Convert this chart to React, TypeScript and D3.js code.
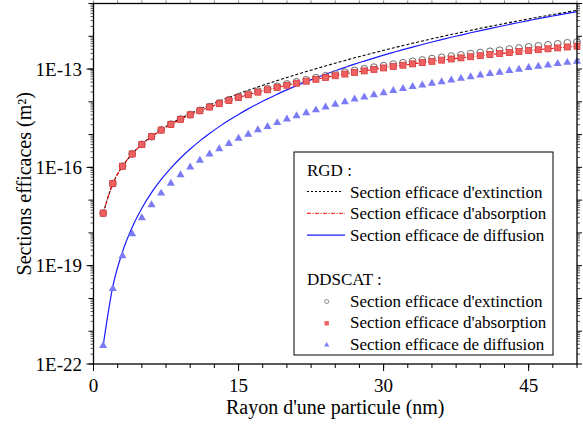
import React from "react";
import * as d3 from "d3";

const radius = [1,2,3,4,5,6,7,8,9,10,11,12,13,14,15,16,17,18,19,20,21,22,23,24,25,26,27,28,29,30,31,32,33,34,35,36,37,38,39,40,41,42,43,44,45,46,47,48,49,50];

// RGD theory
const rgdExtinction = [4.0e-18,3.20e-17,1.083e-16,2.575e-16,5.06e-16,8.81e-16,1.41e-15,2.15e-15,3.11e-15,4.36e-15,5.96e-15,7.99e-15,1.054e-14,1.37e-14,1.76e-14,2.25e-14,2.85e-14,3.56e-14,4.45e-14,5.52e-14,6.81e-14,8.38e-14,1.024e-13,1.247e-13,1.511e-13,1.82e-13,2.20e-13,2.63e-13,3.14e-13,3.73e-13,4.41e-13,5.21e-13,6.13e-13,7.18e-13,8.39e-13,9.77e-13,1.134e-12,1.31e-12,1.52e-12,1.75e-12,2.00e-12,2.29e-12,2.61e-12,2.97e-12,3.38e-12,3.83e-12,4.33e-12,4.88e-12,5.49e-12,6.17e-12];
const rgdAbsorption = [4.0e-18,3.2e-17,1.08e-16,2.56e-16,5.0e-16,8.64e-16,1.37e-15,2.05e-15,2.92e-15,4.0e-15,5.32e-15,6.91e-15,8.79e-15,1.10e-14,1.35e-14,1.64e-14,1.97e-14,2.33e-14,2.74e-14,3.2e-14,3.70e-14,4.26e-14,4.87e-14,5.53e-14,6.25e-14,7.03e-14,7.87e-14,8.78e-14,9.76e-14,1.08e-13,1.19e-13,1.31e-13,1.44e-13,1.57e-13,1.72e-13,1.87e-13,2.03e-13,2.19e-13,2.37e-13,2.56e-13,2.76e-13,2.96e-13,3.18e-13,3.41e-13,3.65e-13,3.89e-13,4.15e-13,4.42e-13,4.71e-13,5.0e-13];
const rgdScattering = [3.63e-22,2.32e-20,2.65e-19,1.49e-18,5.67e-18,1.69e-17,4.27e-17,9.52e-17,1.93e-16,3.63e-16,6.43e-16,1.08e-15,1.75e-15,2.73e-15,4.13e-15,6.09e-15,8.76e-15,1.23e-14,1.71e-14,2.32e-14,3.11e-14,4.12e-14,5.37e-14,6.94e-14,8.86e-14,1.12e-13,1.41e-13,1.75e-13,2.16e-13,2.65e-13,3.22e-13,3.90e-13,4.69e-13,5.61e-13,6.67e-13,7.90e-13,9.31e-13,1.09e-12,1.28e-12,1.49e-12,1.72e-12,1.99e-12,2.29e-12,2.63e-12,3.01e-12,3.44e-12,3.91e-12,4.44e-12,5.02e-12,5.67e-12];

// DDSCAT simulation
const ddExtinction = [4.0e-18,3.2e-17,1.082e-16,2.57e-16,5.03e-16,8.71e-16,1.39e-15,2.08e-15,2.98e-15,4.10e-15,5.48e-15,7.16e-15,9.15e-15,1.15e-14,1.43e-14,1.74e-14,2.11e-14,2.50e-14,2.97e-14,3.50e-14,4.07e-14,4.72e-14,5.43e-14,6.22e-14,7.08e-14,8.03e-14,9.07e-14,1.02e-13,1.14e-13,1.27e-13,1.41e-13,1.56e-13,1.73e-13,1.89e-13,2.08e-13,2.28e-13,2.49e-13,2.70e-13,2.95e-13,3.21e-13,3.48e-13,3.75e-13,4.07e-13,4.39e-13,4.75e-13,5.09e-13,5.47e-13,5.87e-13,6.29e-13,6.70e-13];
const ddAbsorption = [4.0e-18,3.2e-17,1.08e-16,2.56e-16,5.0e-16,8.64e-16,1.37e-15,2.05e-15,2.92e-15,4.0e-15,5.32e-15,6.91e-15,8.79e-15,1.10e-14,1.35e-14,1.64e-14,1.97e-14,2.33e-14,2.74e-14,3.2e-14,3.70e-14,4.26e-14,4.87e-14,5.53e-14,6.25e-14,7.03e-14,7.87e-14,8.78e-14,9.76e-14,1.08e-13,1.19e-13,1.31e-13,1.44e-13,1.57e-13,1.72e-13,1.87e-13,2.03e-13,2.19e-13,2.37e-13,2.56e-13,2.76e-13,2.96e-13,3.18e-13,3.41e-13,3.65e-13,3.89e-13,4.15e-13,4.42e-13,4.71e-13,5.0e-13];
const ddScattering = [3.63e-22,2.0e-20,2.0e-19,9.3e-19,2.88e-18,7.1e-18,1.62e-17,3.24e-17,5.9e-17,1.02e-16,1.62e-16,2.51e-16,3.63e-16,5.25e-16,7.6e-16,1.02e-15,1.38e-15,1.74e-15,2.29e-15,2.95e-15,3.72e-15,4.57e-15,5.62e-15,6.92e-15,8.32e-15,1.0e-14,1.20e-14,1.38e-14,1.62e-14,1.86e-14,2.19e-14,2.51e-14,2.88e-14,3.24e-14,3.63e-14,4.07e-14,4.57e-14,5.13e-14,5.75e-14,6.46e-14,7.24e-14,7.94e-14,8.91e-14,9.77e-14,1.10e-13,1.20e-13,1.32e-13,1.45e-13,1.58e-13,1.70e-13];

const xTicks = [0, 15, 30, 45];
const yTickValues = [1e-22, 1e-19, 1e-16, 1e-13];
const yTickLabels = ["1E-22", "1E-19", "1E-16", "1E-13"];

const xTitle = "Rayon d'une particule (nm)";
const yTitle = "Sections efficaces (m\u00B2)";
const legendRgdTitle = "RGD :";
const legendDdTitle = "DDSCAT :";
const legendLabels = ["Section efficace d'extinction", "Section efficace d'absorption", "Section efficace de diffusion"];

const W = 583, H = 424;
const L = 93.5, R = 577, T = 3.5, B = 364;
const FONT = "'Liberation Serif', 'Times New Roman', serif";

export default function App() {
  const x = d3.scaleLinear().domain([0, 50]).range([L, R]);
  const y = d3.scaleLog().domain([1e-22, 1e-11]).range([B, T]);

  const mk = (vals: number[]) =>
    d3.line<number>().x((_, i) => x(radius[i])).y((v) => y(v)).curve(d3.curveMonotoneX)(vals) || "";

  const minorX: number[] = d3.range(0, 50.01, 2.5);
  const decades: number[] = d3.range(-22, -10).map((e) => Math.pow(10, e));
  const minorY: number[] = [];
  for (let e = -22; e < -11; e++) for (let k = 2; k <= 9; k++) minorY.push(k * Math.pow(10, e));

  const tri = d3.symbol().type(d3.symbolTriangle).size(28)() || "";
  const triLeg = d3.symbol().type(d3.symbolTriangle).size(12)() || "";

  const lgX = 294, lgY = 152, lgW = 259, lgH = 203;
  const row = (i: number) => 192.5 + i * 21.8;
  const ddRow = (i: number) => 301.5 + i * 21.8;

  return (
    <svg width={W} height={H} style={{ position: "absolute", left: 0, top: 0, background: "#fff" }} fontFamily={FONT}>
      <rect x={0} y={0} width={W} height={H} fill="#fff" />
      {/* minor ticks y */}
      {minorY.map((v, i) => (
        <g key={"my" + i}>
          <line x1={L} x2={L - 3} y1={y(v)} y2={y(v)} stroke="#333" strokeWidth={0.8} />
          <line x1={R} x2={R + 3} y1={y(v)} y2={y(v)} stroke="#333" strokeWidth={0.8} />
        </g>
      ))}
      {decades.map((v, i) => (
        <g key={"dy" + i}>
          <line x1={L} x2={L - 5} y1={y(v)} y2={y(v)} stroke="#000" strokeWidth={1} />
          <line x1={R} x2={R + 5} y1={y(v)} y2={y(v)} stroke="#000" strokeWidth={1} />
        </g>
      ))}
      {yTickValues.map((v, i) => (
        <g key={"yt" + i}>
          <line x1={L} x2={L - 7} y1={y(v)} y2={y(v)} stroke="#000" strokeWidth={1} />
          <text x={82} y={y(v)} dy="0.35em" textAnchor="end" fontSize={19}>{yTickLabels[i]}</text>
        </g>
      ))}
      {minorX.map((v, i) => (
        <g key={"mx" + i}>
          <line x1={x(v)} x2={x(v)} y1={B} y2={B + 4} stroke="#000" strokeWidth={1} />
          <line x1={x(v)} x2={x(v)} y1={T} y2={T - 3} stroke="#666" strokeWidth={0.8} />
        </g>
      ))}
      {xTicks.map((v, i) => (
        <g key={"xt" + i}>
          <line x1={x(v)} x2={x(v)} y1={B} y2={B + 7} stroke="#000" strokeWidth={1} />
          <text x={x(v)} y={392} textAnchor="middle" fontSize={19}>{v}</text>
        </g>
      ))}

      {/* RGD lines */}
      <path d={mk(rgdExtinction)} fill="none" stroke="#000" strokeWidth={1.1} strokeDasharray="3,2" />
      <path d={mk(rgdAbsorption)} fill="none" stroke="#ff0000" strokeWidth={1.1} strokeDasharray="4,1.5,1,1.5" />
      <path d={mk(rgdScattering)} fill="none" stroke="#1a1aff" strokeWidth={1.2} />

      {/* DDSCAT markers */}
      {ddExtinction.map((v, i) => (
        <circle key={"ce" + i} cx={x(radius[i])} cy={y(v)} r={3.4} fill="none" stroke="#6e6e6e" strokeWidth={1} />
      ))}
      {ddAbsorption.map((v, i) => (
        <rect key={"ca" + i} x={x(radius[i]) - 3} y={y(v) - 3} width={6} height={6} fill="#f06262" stroke="#d83a3a" strokeWidth={0.8} />
      ))}
      {ddScattering.map((v, i) => (
        <path key={"cs" + i} d={tri} transform={`translate(${x(radius[i])},${y(v)})`} fill="#7b7bf5" />
      ))}

      {/* frame */}
      <rect x={L} y={T} width={R - L} height={B - T} fill="none" stroke="#000" strokeWidth={1.3} />

      {/* legend */}
      <rect x={lgX} y={lgY} width={lgW} height={lgH} fill="#fff" stroke="#000" strokeWidth={1} />
      <text x={307} y={176} fontSize={17}>{legendRgdTitle}</text>
      <line x1={307} x2={342} y1={row(0) - 1} y2={row(0) - 1} stroke="#000" strokeWidth={1} strokeDasharray="2,2" />
      <line x1={307} x2={345} y1={row(1) - 1} y2={row(1) - 1} stroke="#ff0000" strokeWidth={1} strokeDasharray="4,1.5,1,1.5" />
      <line x1={307} x2={345} y1={row(2) - 1} y2={row(2) - 1} stroke="#1a1aff" strokeWidth={1.2} />
      {legendLabels.map((t, i) => (
        <text key={"lr" + i} x={350} y={row(i) + 5} fontSize={17}>{t}</text>
      ))}
      <text x={307} y={285} fontSize={17}>{legendDdTitle}</text>
      <circle cx={326.7} cy={ddRow(0)} r={2} fill="none" stroke="#6e6e6e" strokeWidth={0.8} />
      <rect x={324.5} y={ddRow(1) - 2.2} width={4.4} height={4.4} fill="#f06262" />
      <path d={triLeg} transform={`translate(${326.7},${ddRow(2)})`} fill="#7b7bf5" />
      {legendLabels.map((t, i) => (
        <text key={"ld" + i} x={350} y={ddRow(i) + 5} fontSize={17}>{t}</text>
      ))}

      {/* axis titles */}
      <text x={(L + R) / 2} y={414} textAnchor="middle" fontSize={20}>{xTitle}</text>
      <text transform={`translate(24,${(T + B) / 2}) rotate(-90)`} textAnchor="middle" dy="0.35em" fontSize={20}>{yTitle}</text>
    </svg>
  );
}
